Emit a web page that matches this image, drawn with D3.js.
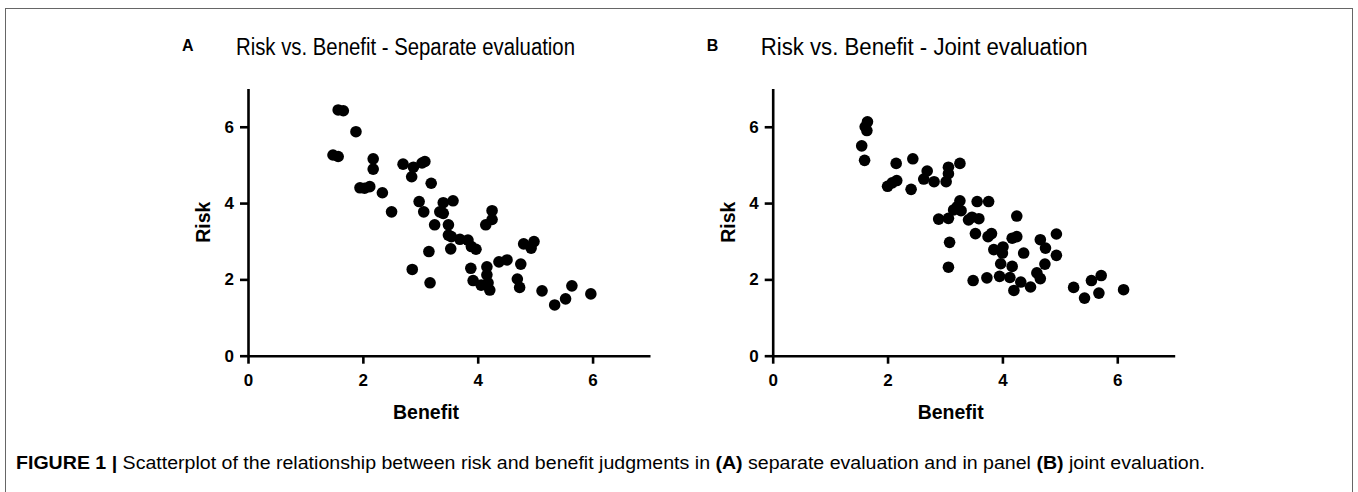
<!DOCTYPE html>
<html>
<head>
<meta charset="utf-8">
<script src="https://cdn.jsdelivr.net/npm/d3@7"></script>
<style>
  body { margin: 0; background: #fff; }
  svg text { font-family: "Liberation Sans", Arial, sans-serif; }
</style>
</head>
<body>
<svg id="fig" width="1358" height="492"></svg>
<script>
// panel A - separate evaluation
const separateBenefit = [1.57, 1.66, 1.88, 1.48, 1.57, 2.18, 2.18, 1.95, 2.03, 2.12, 2.34, 2.50, 2.70, 2.88, 2.85,
  3.08, 3.03, 3.19, 2.98, 3.06, 3.40, 3.57, 3.34, 3.40, 4.25, 4.25, 4.14, 3.25, 3.49, 3.49, 3.54, 3.69, 3.83,
  3.89, 3.97, 3.15, 3.53, 2.86, 3.17, 3.88, 4.16, 4.16, 3.92, 4.06, 4.18, 4.21, 4.37, 4.51, 4.75, 4.69, 4.73,
  4.80, 4.98, 4.93, 5.12, 5.34, 5.53, 5.64, 5.97];
const separateRisk = [6.44, 6.42, 5.87, 5.26, 5.22, 5.16, 4.89, 4.40, 4.39, 4.43, 4.27, 3.77, 5.02, 4.94, 4.69,
  5.09, 5.05, 4.52, 4.04, 3.77, 4.01, 4.06, 3.77, 3.73, 3.80, 3.57, 3.43, 3.43, 3.43, 3.16, 3.12, 3.05, 3.03,
  2.86, 2.79, 2.73, 2.80, 2.26, 1.91, 2.29, 2.33, 2.12, 1.97, 1.85, 1.91, 1.72, 2.46, 2.51, 2.40, 2.01, 1.79,
  2.93, 2.99, 2.82, 1.70, 1.33, 1.49, 1.83, 1.62];

// panel B - joint evaluation
const jointBenefit = [1.65, 1.61, 1.64, 1.55, 1.60, 2.15, 2.44, 2.00, 2.08, 2.16, 2.41, 2.69, 2.63, 2.81, 3.06,
  3.06, 3.02, 3.26, 3.26, 3.28, 3.15, 3.21, 3.56, 3.76, 2.89, 3.06, 3.41, 3.47, 3.59, 3.53, 3.75, 3.81, 4.25,
  4.17, 4.25, 4.66, 4.75, 4.94, 3.85, 4.01, 4.00, 4.37, 3.97, 4.17, 4.94, 4.74, 3.08, 3.06, 3.49, 3.73, 3.95,
  4.13, 4.32, 4.20, 4.49, 4.60, 4.66, 5.24, 5.43, 5.55, 5.72, 5.68, 6.11];
const jointRisk = [6.13, 6.00, 5.90, 5.50, 5.12, 5.04, 5.16, 4.44, 4.53, 4.59, 4.36, 4.84, 4.63, 4.56, 4.94,
  4.77, 4.56, 5.04, 4.06, 3.80, 3.82, 3.90, 4.04, 4.04, 3.58, 3.60, 3.56, 3.63, 3.59, 3.20, 3.12, 3.20, 3.66,
  3.08, 3.12, 3.04, 2.82, 3.19, 2.78, 2.85, 2.69, 2.69, 2.41, 2.34, 2.63, 2.40, 2.97, 2.32, 1.97, 2.04, 2.08,
  2.05, 1.93, 1.71, 1.80, 2.17, 2.02, 1.79, 1.51, 1.97, 2.10, 1.64, 1.73];

const tickValues = [0, 2, 4, 6];
const panels = [
  { letter: 'A', title: 'Risk vs. Benefit - Separate evaluation', titleW: 339, x: separateBenefit, y: separateRisk, left: 248 },
  { letter: 'B', title: 'Risk vs. Benefit - Joint evaluation', titleW: 327, x: jointBenefit, y: jointRisk, left: 772.7 }
];

const svg = d3.select('#fig');

// figure frame
svg.append('rect')
  .attr('x', 5.5).attr('y', 8.5)
  .attr('width', 1347).attr('height', 520)
  .attr('fill', 'none')
  .attr('stroke', '#666')
  .attr('stroke-width', 1);

const plotTop = 88.6, plotBottom = 355.7, axisW = 402;

panels.forEach(function(p) {
  let x = d3.scaleLinear().domain([0, 7]).range([p.left, p.left + axisW]);
  let y = d3.scaleLinear().domain([0, 7]).range([plotBottom, plotTop]);

  let g = svg.append('g');

  let xAxis = g.append('g')
    .attr('transform', 'translate(0,' + plotBottom + ')')
    .call(d3.axisBottom(x).tickValues(tickValues).tickFormat(d3.format('d'))
      .tickSize(8).tickSizeOuter(0).tickPadding(10));
  let yAxis = g.append('g')
    .attr('transform', 'translate(' + p.left + ',0)')
    .call(d3.axisLeft(y).tickValues(tickValues).tickFormat(d3.format('d'))
      .tickSize(8).tickSizeOuter(0).tickPadding(6));

  [xAxis, yAxis].forEach(function(a) {
    a.select('.domain').attr('stroke', '#000').attr('stroke-width', 2.6);
    a.selectAll('.tick line').attr('stroke', '#000').attr('stroke-width', 2.6);
    a.selectAll('.tick text')
      .attr('font-family', '"Liberation Sans", Arial, sans-serif')
      .attr('font-size', 17)
      .attr('font-weight', 'bold')
      .attr('fill', '#000');
  });

  g.selectAll('circle.pt')
    .data(d3.zip(p.x, p.y))
    .join('circle')
    .attr('class', 'pt')
    .attr('cx', d => x(d[0]))
    .attr('cy', d => y(d[1]))
    .attr('r', 5.8)
    .attr('fill', '#000');

  // axis titles
  g.append('text')
    .attr('x', x(3.1)).attr('y', 419)
    .attr('text-anchor', 'middle')
    .attr('font-size', 19.5).attr('font-weight', 'bold')
    .text('Benefit');
  g.append('text')
    .attr('transform', 'translate(' + (p.left - 38) + ',' + ((plotTop + plotBottom) / 2) + ') rotate(-90)')
    .attr('text-anchor', 'middle')
    .attr('font-size', 19.5).attr('font-weight', 'bold')
    .text('Risk');

  // panel letter + title
  g.append('text')
    .attr('x', p.left - 66).attr('y', 51)
    .attr('font-size', 16).attr('font-weight', 'bold')
    .text(p.letter);
  g.append('text')
    .attr('x', p.left - 12).attr('y', 55)
    .attr('font-size', 23)
    .attr('textLength', p.titleW)
    .attr('lengthAdjust', 'spacingAndGlyphs')
    .text(p.title);
});

// caption
let cap = svg.append('text')
  .attr('x', 16).attr('y', 469)
  .attr('font-size', 17.5)
  .attr('textLength', 1189)
  .attr('lengthAdjust', 'spacingAndGlyphs');
cap.append('tspan').attr('font-weight', 'bold').text('FIGURE 1 | ');
cap.append('tspan').text('Scatterplot of the relationship between risk and benefit judgments in ');
cap.append('tspan').attr('font-weight', 'bold').text('(A)');
cap.append('tspan').text(' separate evaluation and in panel ');
cap.append('tspan').attr('font-weight', 'bold').text('(B)');
cap.append('tspan').text(' joint evaluation.');
</script>
</body>
</html>
